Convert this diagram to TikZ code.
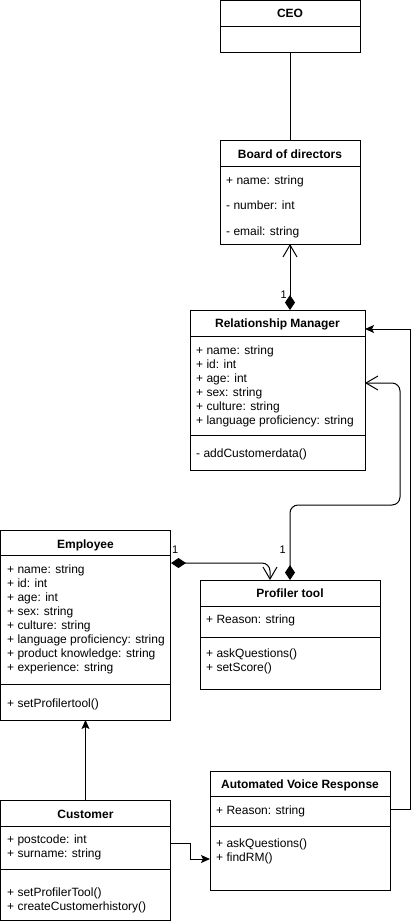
\documentclass[tikz,border=0pt]{standalone}
\usepackage{fontspec}
\setmainfont{Liberation Sans}
\usetikzlibrary{arrows.meta}
\begin{document}
\begin{tikzpicture}[x=1pt,y=-1pt,
  cls/.style={draw, line width=1pt, anchor=north west, inner sep=0pt, outer sep=0pt},
  hdr/.style={anchor=base, inner sep=0pt, font=\fontsize{12}{14}\selectfont\bfseries},
  attr/.style={anchor=base west, inner sep=0pt, align=left, font=\fontsize{12}{14}\selectfont},
  wide/.style={anchor=base west, inner sep=0pt, align=left, font=\fontsize{12}{25.5}\selectfont},
  mult/.style={inner sep=0pt, font=\fontsize{11}{13}\selectfont},
  conn/.style={line width=1pt},
  comp/.style={conn, {Diamond[length=15pt,width=10pt]}-{Straight Barb[length=12pt,width=14pt]}},
  solidarr/.style={conn, -{Stealth[length=9pt,width=8pt,inset=2pt]}},
  divider/.style={line width=1pt}]
\useasboundingbox (0,0) rectangle (420,924);

% CEO
\node[cls, minimum width=140pt, minimum height=52pt] (ceo) at (220,0.5) {};
\draw[divider] ([yshift=-26pt]ceo.north west) -- ([yshift=-26pt]ceo.north east);
\node[hdr] (ceoT) at (290,17) {CEO};

% Board of directors
\node[cls, minimum width=140pt, minimum height=104pt] (bod) at (220,140) {};
\draw[divider] ([yshift=-26pt]bod.north west) -- ([yshift=-26pt]bod.north east);
\node[hdr] (bodT) at (290,158) {Board of directors};
\node[wide] (bodA) at (226,235) {+ name: string\\- number: int\\- email: string};

% Relationship Manager
\node[cls, minimum width=175pt, minimum height=160pt] (rm) at (190,310) {};
\draw[divider] ([yshift=-26pt]rm.north west) -- ([yshift=-26pt]rm.north east);
\draw[divider] ([yshift=-125pt]rm.north west) -- ([yshift=-125pt]rm.north east);
\node[hdr] (rmT) at (277.5,327) {Relationship Manager};
\node[attr] (rmA) at (196,424) {+ name: string\\+ id: int\\+ age: int\\+ sex: string\\+ culture: string\\+ language proficiency: string};
\node[attr] (rmM) at (196,457) {- addCustomerdata()};

% Employee
\node[cls, minimum width=170pt, minimum height=190pt] (emp) at (0.5,530) {};
\draw[divider] ([yshift=-25pt]emp.north west) -- ([yshift=-25pt]emp.north east);
\draw[divider] ([yshift=-154pt]emp.north west) -- ([yshift=-154pt]emp.north east);
\node[hdr] (empT) at (85.5,548) {Employee};
\node[attr] (empA) at (7,671) {+ name: string\\+ id: int\\+ age: int\\+ sex: string\\+ culture: string\\+ language proficiency: string\\+ product knowledge: string\\+ experience: string};
\node[attr] (empM) at (7,707) {+ setProfilertool()};

% Profiler tool
\node[cls, minimum width=180pt, minimum height=109pt] (prof) at (200,580) {};
\draw[divider] ([yshift=-26pt]prof.north west) -- ([yshift=-26pt]prof.north east);
\draw[divider] ([yshift=-57pt]prof.north west) -- ([yshift=-57pt]prof.north east);
\node[hdr] (profT) at (290,597) {Profiler tool};
\node[attr] (profA) at (206,623) {+ Reason: string};
\node[attr] (profM) at (206,671) {+ askQuestions()\\+ setScore()};

% Customer
\node[cls, minimum width=170pt, minimum height=120pt] (cust) at (0.5,800) {};
\draw[divider] ([yshift=-26pt]cust.north west) -- ([yshift=-26pt]cust.north east);
\draw[divider] ([yshift=-69pt]cust.north west) -- ([yshift=-69pt]cust.north east);
\node[hdr] (custT) at (85.5,818) {Customer};
\node[attr] (custA) at (7,857) {+ postcode: int\\+ surname: string};
\node[attr] (custM) at (7,910) {+ setProfilerTool()\\+ createCustomerhistory()};

% Automated Voice Response
\node[cls, minimum width=180pt, minimum height=119pt] (avr) at (210,771) {};
\draw[divider] ([yshift=-25pt]avr.north west) -- ([yshift=-25pt]avr.north east);
\draw[divider] ([yshift=-55pt]avr.north west) -- ([yshift=-55pt]avr.north east);
\node[hdr] (avrT) at (300,788) {Automated Voice Response};
\node[attr] (avrA) at (216,814) {+ Reason: string};
\node[attr] (avrM) at (216,861) {+ askQuestions()\\+ findRM()};

% connector points
\coordinate (rmIn1) at (365,329);
\coordinate (rmIn2) at (365,383);
\coordinate (avrOut) at (390,809);
\coordinate (empOut) at (171,563);
\coordinate (profIn) at (270,580);
\coordinate (custOut) at (171,843);
\coordinate (avrIn) at (210,859);

% connectors
\draw[conn] (ceo.south) -- (bod.north);
\draw[comp] (bod.south |- rm.north) -- (bod.south);
\node[mult, anchor=east] (m1) at (287,295) {1};

\draw[comp, rounded corners=8pt] (prof.north) -- (290,505) -- (400,505) -- (400,383) -- (rmIn2);
\node[mult, anchor=east] (m2) at (286,550) {1};

\draw[comp, rounded corners=8pt] (empOut) -- (270,563) -- (profIn);
\node[mult, anchor=west] (m3) at (172,550) {1};

\draw[solidarr] (avrOut) -- (410,809) -- (410,329) -- (rmIn1);
\draw[solidarr] (cust.north) -- (emp.south);
\draw[solidarr] (custOut) -- (190,843) -- (190,859) -- (avrIn);
\end{tikzpicture}
\end{document}
